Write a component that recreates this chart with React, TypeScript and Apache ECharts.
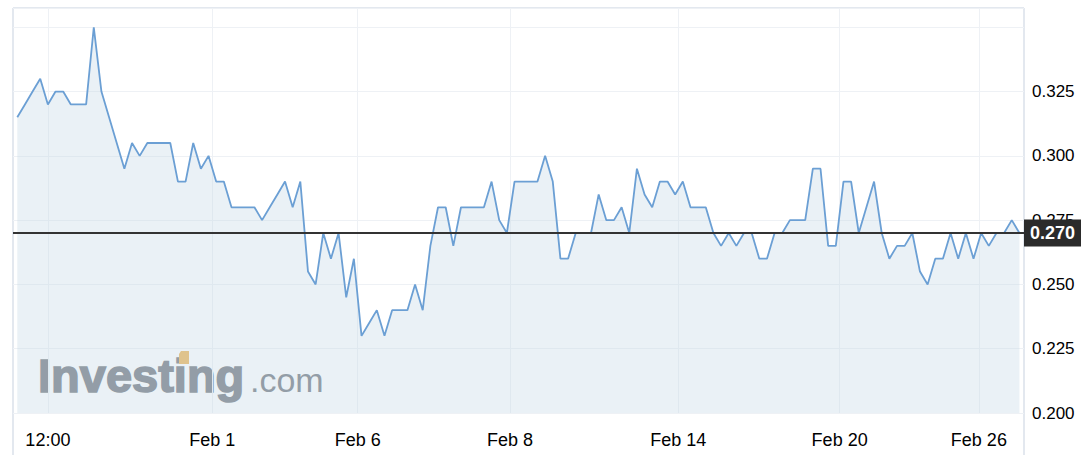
import { useEffect, useRef } from 'react';
import * as echarts from 'echarts';

// price points, evenly spaced (index on the x axis)
const prices = [
  0.315, 0.320, 0.325, 0.330, 0.320, 0.325, 0.325, 0.320, 0.320, 0.320,
  0.350, 0.325, 0.315, 0.305, 0.295, 0.305, 0.300, 0.305, 0.305, 0.305,
  0.305, 0.290, 0.290, 0.305, 0.295, 0.300, 0.290, 0.290, 0.280, 0.280,
  0.280, 0.280, 0.275, 0.280, 0.285, 0.290, 0.280, 0.290, 0.255, 0.250,
  0.270, 0.260, 0.270, 0.245, 0.260, 0.230, 0.235, 0.240, 0.230, 0.240,
  0.240, 0.240, 0.250, 0.240, 0.265, 0.280, 0.280, 0.265, 0.280, 0.280,
  0.280, 0.280, 0.290, 0.275, 0.270, 0.290, 0.290, 0.290, 0.290, 0.300,
  0.290, 0.260, 0.260, 0.270, 0.270, 0.270, 0.285, 0.275, 0.275, 0.280,
  0.270, 0.295, 0.285, 0.280, 0.290, 0.290, 0.285, 0.290, 0.280, 0.280,
  0.280, 0.270, 0.265, 0.270, 0.265, 0.270, 0.270, 0.260, 0.260, 0.270,
  0.270, 0.275, 0.275, 0.275, 0.295, 0.295, 0.265, 0.265, 0.290, 0.290,
  0.270, 0.280, 0.290, 0.270, 0.260, 0.265, 0.265, 0.270, 0.255, 0.250,
  0.260, 0.260, 0.270, 0.260, 0.270, 0.260, 0.270, 0.265, 0.270, 0.270,
  0.275, 0.270
];

// date ticks fall between points
const tickIndex = [4, 25.5, 44.5, 64.4, 86.4, 107.5, 125.7];
const tickLabels = ['12:00', 'Feb 1', 'Feb 6', 'Feb 8', 'Feb 14', 'Feb 20', 'Feb 26'];

const lastPrice = 0.27;

const App = () => {
  const chartRef = useRef<HTMLDivElement>(null);

  useEffect(() => {
    if (!chartRef.current) return;
    const chart = echarts.init(chartRef.current, undefined, { renderer: 'svg' });

    const frameColor = '#e3e8ef';
    const gridColor = '#eef1f5';
    const logoGray = '#7a7f86';

    const option: echarts.EChartsOption = {
      animation: false,
      backgroundColor: '#fff',
      grid: { left: 13, right: 57, top: 8, bottom: 42 },
      xAxis: {
        type: 'value',
        min: -0.56,
        max: 131.6,
        axisLine: { show: false },
        axisTick: { show: false, customValues: tickIndex },
        axisLabel: {
          customValues: tickIndex,
          margin: 18,
          color: '#000',
          fontSize: 18,
          fontFamily: 'Liberation Sans, Arial, sans-serif',
          formatter: (v: number) => {
            const k = tickIndex.findIndex(t => Math.abs(t - v) < 0.01);
            return k >= 0 ? tickLabels[k] : '';
          }
        },
        splitLine: { show: true, lineStyle: { color: gridColor, width: 1 } }
      },
      yAxis: {
        type: 'value',
        position: 'right',
        min: 0.2,
        max: 0.3575,
        interval: 0.025,
        axisLine: { show: false },
        axisTick: { show: false },
        axisLabel: {
          margin: 8,
          color: '#000',
          fontSize: 17,
          fontFamily: 'Liberation Sans, Arial, sans-serif',
          formatter: (v: number) => (v > 0.34 ? '' : v.toFixed(3))
        },
        splitLine: { show: true, lineStyle: { color: gridColor, width: 1 } }
      },
      graphic: [
        { type: 'line', shape: { x1: 13, y1: 8, x2: 13, y2: 455 }, style: { stroke: frameColor, lineWidth: 2 }, silent: true },
        { type: 'line', shape: { x1: 13, y1: 8, x2: 1024, y2: 8 }, style: { stroke: frameColor, lineWidth: 2 }, silent: true },
        { type: 'line', shape: { x1: 1024, y1: 8, x2: 1024, y2: 455 }, style: { stroke: frameColor, lineWidth: 2 }, silent: true },
        {
          type: 'text',
          x: 38,
          y: 375,
          silent: true,
          style: {
            text: 'Investing',
            fill: logoGray,
            stroke: logoGray,
            lineWidth: 1.6,
            font: 'bold 47px "Liberation Sans", Arial, sans-serif',
            verticalAlign: 'middle'
          }
        },
        {
          type: 'polygon',
          silent: true,
          shape: { points: [[181, 351], [189, 351], [189, 364], [179, 364], [179, 354]] },
          style: { fill: '#efb85f' }
        },
        {
          type: 'text',
          x: 250,
          y: 380,
          silent: true,
          style: {
            text: '.com',
            fill: logoGray,
            font: '34px "Liberation Sans", Arial, sans-serif',
            verticalAlign: 'middle'
          }
        }
      ],
      series: [
        {
          type: 'line',
          data: prices.map((v, i) => [i, v]),
          symbol: 'none',
          lineStyle: { color: '#6b9fd4', width: 1.8 },
          areaStyle: { color: 'rgba(196, 215, 229, 0.5)' },
          markLine: {
            silent: true,
            symbol: 'none',
            data: [{ yAxis: lastPrice }],
            lineStyle: { color: '#333', width: 2, type: 'solid' },
            label: {
              show: true,
              position: 'end',
              distance: 0,
              formatter: lastPrice.toFixed(3),
              color: '#fff',
              fontWeight: 'bold',
              fontSize: 18,
              fontFamily: 'Liberation Sans, Arial, sans-serif',
              backgroundColor: '#2b2b2b',
              padding: [5, 10, 4, 6]
            }
          }
        }
      ]
    };

    chart.setOption(option);

    return () => {
      chart.dispose();
    };
  }, []);

  return (
    <div
      ref={chartRef}
      style={{ position: 'fixed', left: 0, top: 0, width: 1081, height: 455 }}
    />
  );
};

export default App;
